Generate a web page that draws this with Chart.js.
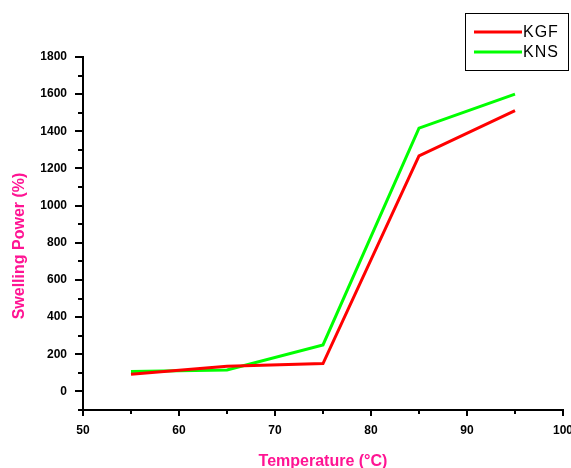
<!DOCTYPE html>
<html>
<head>
<meta charset="utf-8">
<script src="https://cdn.jsdelivr.net/npm/chart.js@4/dist/chart.umd.min.js"></script>
<style>
  html, body { margin: 0; padding: 0; background: #fff; }
  #wrap { width: 571px; height: 468px; position: relative; }
</style>
</head>
<body>
<div id="wrap"><canvas id="c"></canvas></div>
<script>
const temperatures = [55, 65, 75, 85, 95];
const kgfValues = [92, 135, 150, 1268, 1511];
const knsValues = [107, 115, 250, 1417, 1600];
const seriesLabels = ['KGF', 'KNS'];
const xTickLabels = [50, 60, 70, 80, 90, 100];
const yTickLabels = [0, 200, 400, 600, 800, 1000, 1200, 1400, 1600, 1800];
const xTitle = 'Temperature (\u00B0C)';
const yTitle = 'Swelling Power (%)';

const FONT = '"Liberation Sans", Arial, sans-serif';
const PINK = '#FF1493';

const toPoints = (vals) => temperatures.map((t, i) => ({ x: t, y: vals[i] }));

const extras = {
  id: 'extras',
  afterDraw(chart) {
    const ctx = chart.ctx;
    const xs = chart.scales.x, ys = chart.scales.y;
    const area = chart.chartArea;
    ctx.save();
    ctx.strokeStyle = '#000';
    ctx.lineWidth = 2;
    for (let v = xs.min; v <= xs.max; v += 5) {
      const px = Math.round(xs.getPixelForValue(v));
      const major = xTickLabels.includes(v);
      ctx.beginPath();
      ctx.moveTo(px, area.bottom);
      ctx.lineTo(px, area.bottom + (major ? 6 : 4));
      ctx.stroke();
    }
    for (let v = ys.min; v <= ys.max; v += 100) {
      const py = Math.round(ys.getPixelForValue(v));
      const major = yTickLabels.includes(v);
      ctx.beginPath();
      ctx.moveTo(area.left, py);
      ctx.lineTo(area.left - (major ? 8 : 5), py);
      ctx.stroke();
    }
    ctx.fillStyle = PINK;
    ctx.font = 'bold 16px ' + FONT;
    ctx.textAlign = 'center';
    ctx.textBaseline = 'middle';
    ctx.translate(20, 246);
    ctx.rotate(-Math.PI / 2);
    ctx.fillText(yTitle, 0, 0);
    ctx.restore();

    ctx.save();
    ctx.strokeStyle = '#000';
    ctx.lineWidth = 1;
    ctx.strokeRect(465.5, 13.5, 103, 57);
    ctx.font = '16px ' + FONT;
    ctx.letterSpacing = '1px';
    ctx.textAlign = 'left';
    ctx.textBaseline = 'middle';
    chart.data.datasets.forEach((ds, i) => {
      const y = 32 + i * 20;
      ctx.strokeStyle = ds.borderColor;
      ctx.lineWidth = 3;
      ctx.beginPath();
      ctx.moveTo(474, y);
      ctx.lineTo(522, y);
      ctx.stroke();
      ctx.fillStyle = '#000';
      ctx.fillText(ds.label, 523, y + 1);
    });
    ctx.restore();
  }
};

new Chart(document.getElementById('c'), {
  type: 'line',
  data: {
    datasets: [
      { label: seriesLabels[0], data: toPoints(kgfValues), borderColor: '#FF0000', backgroundColor: '#FF0000', borderWidth: 3, pointRadius: 0, tension: 0 },
      { label: seriesLabels[1], data: toPoints(knsValues), borderColor: '#00FF00', backgroundColor: '#00FF00', borderWidth: 3, pointRadius: 0, tension: 0 }
    ]
  },
  options: {
    responsive: true,
    maintainAspectRatio: false,
    animation: false,
    layout: { padding: { top: 57, right: 8, left: 0, bottom: 0 } },
    plugins: { legend: { display: false }, tooltip: { enabled: false } },
    scales: {
      x: {
        type: 'linear',
        min: 50, max: 100,
        grid: { display: true, drawOnChartArea: false, drawTicks: false },
        border: { display: true, color: '#000', width: 2 },
        ticks: {
          stepSize: 10,
          padding: 13,
          color: '#000',
          font: { family: FONT, size: 12, weight: 'bold' },
          maxRotation: 0,
          autoSkip: false,
          callback: (v) => xTickLabels.includes(v) ? String(v) : ''
        },
        title: {
          display: true,
          text: xTitle,
          color: PINK,
          font: { family: FONT, size: 16, weight: 'bold' },
          padding: { top: 16, bottom: -3 }
        },
        afterFit(scale) { scale.height = 58; scale.paddingLeft = 0; scale.paddingRight = 0; }
      },
      y: {
        min: -100, max: 1800,
        grid: { display: true, drawOnChartArea: false, drawTicks: false },
        border: { display: true, color: '#000', width: 2 },
        ticks: {
          stepSize: 200,
          padding: 16,
          color: '#000',
          font: { family: FONT, size: 12, weight: 'bold' },
          autoSkip: false,
          callback: (v) => yTickLabels.includes(v) ? String(v) : ''
        },
        afterBuildTicks(scale) {
          scale.ticks = yTickLabels.map(v => ({ value: v }));
        },
        afterFit(scale) { scale.width = 83; scale.paddingTop = 0; scale.paddingBottom = 0; }
      }
    }
  },
  plugins: [extras]
});
</script>
</body>
</html>
